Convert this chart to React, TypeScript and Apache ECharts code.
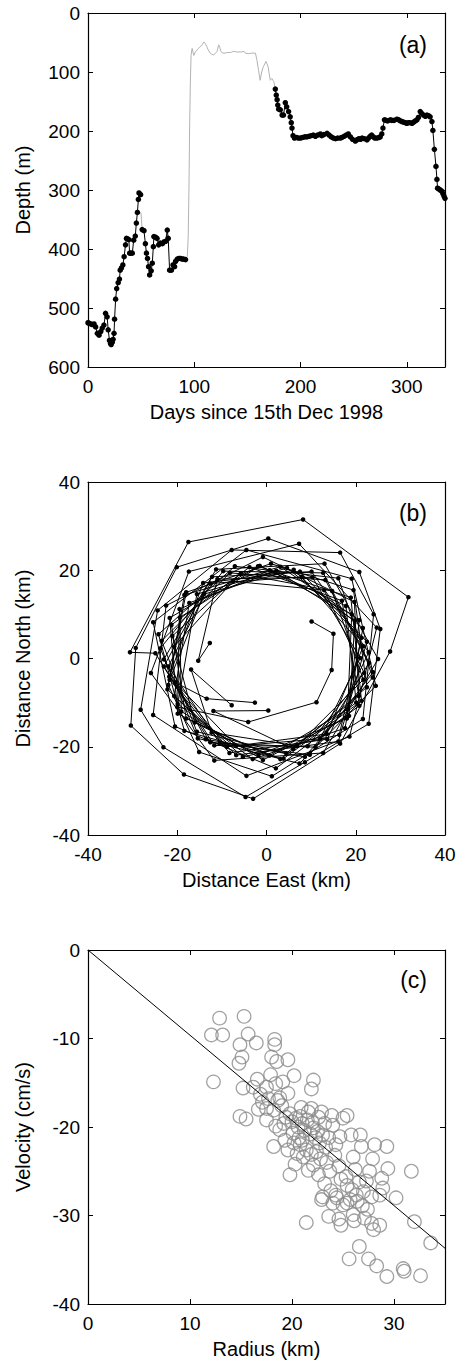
import React, { useEffect, useRef } from "react";
import * as echarts from "echarts";

const FONT = "'Liberation Sans', Arial, Helvetica, sans-serif";

// ---------- Panel (a): depth vs days ----------
const depthBlack1: number[][] = [
  [0, 525], [1.2, 526], [2.5, 527], [4, 528], [5.7, 527], [7.2, 532], [8.8, 543], [10.4, 546],
  [12, 540], [13.4, 534], [15, 529], [16.5, 509], [18, 515], [19, 537], [20.2, 555], [21.2, 560],
  [21.8, 562], [22.8, 558], [23.6, 553], [24.5, 543], [25, 519], [26, 485], [27, 467], [28.4, 457],
  [29.6, 451], [30.3, 436], [31.5, 432], [32.8, 427], [34, 413], [35.3, 393], [36.2, 382], [37.2, 383],
  [38.4, 384], [39.2, 407], [40, 407], [41.7, 407], [43, 385], [44.5, 378], [45.5, 356], [46.5, 338],
  [47.4, 316], [48, 305], [49.5, 308],
];
const depthBlack2: number[][] = [
  [51, 367], [52.7, 369], [54, 391], [55, 407], [56, 416], [57, 430], [58, 444], [59.5, 437],
  [60.5, 424], [61.5, 396], [62, 379], [63.5, 380], [65, 382], [66.5, 393], [68, 390], [70, 391],
  [71.5, 388], [73, 387], [74.6, 368], [75.5, 382], [76.8, 436], [78.5, 436], [80, 427], [81.5, 430],
  [82.4, 421], [84, 417], [85.6, 416], [87, 416], [88.7, 417], [90, 417], [91.8, 418],
];
const depthBlack3: number[][] = [
  [176.3, 129], [177.2, 139], [178, 147], [178.6, 156], [179.5, 163], [181, 164], [182.7, 173], [184, 173],
  [185.7, 152], [187, 159], [188.8, 167], [190.3, 176], [191.3, 186], [192, 195], [193, 208], [194.3, 212],
  [196, 211], [198, 212], [200, 212], [202, 211], [204, 210], [206, 210], [208, 209], [210, 208],
  [212, 207], [214, 209], [216, 207], [218.7, 205], [220, 208], [222, 206], [225, 204], [227, 207],
  [229, 210], [231, 212], [233, 213], [235, 212], [237.5, 212], [239, 211], [241, 209], [243, 207],
  [245, 205], [247, 210], [249, 214], [251.6, 217], [253, 215], [255, 213], [256.5, 214], [258, 212],
  [260, 213], [262.6, 215], [264, 212], [265.5, 209], [267, 207], [268.5, 210], [270, 212], [272, 212],
  [274, 211], [275, 210], [276.5, 205], [277.6, 195], [279, 181], [280.5, 182], [282, 183], [284.5, 181],
  [286, 182], [288, 182], [290.8, 180], [292.5, 181], [294, 183], [295.5, 184], [297, 185], [298.5, 186],
  [300, 187], [301.5, 186], [303, 186], [305, 187], [306.5, 185], [308, 183], [309.6, 181], [311, 177],
  [312.7, 167], [314, 170], [315.8, 173], [317.5, 175], [319, 173], [320.5, 174], [322, 176], [323.7, 184],
  [324.6, 199], [326, 231], [327.5, 260], [328.4, 282], [329, 297], [330, 298], [331.5, 300], [333, 302],
  [334, 306], [335, 310], [336, 314],
];
const depthGray1: number[][] = [[49.8, 338], [50.3, 350], [51, 367]];
const depthGray2: number[][] = [
  [91.8, 418], [93.5, 412], [94.3, 380], [95, 300], [95.6, 200], [96.3, 120], [97, 72], [98, 60],
  [99.5, 72], [101, 66], [102.5, 63], [104, 60], [105.5, 57], [107, 55], [109, 49], [110.5, 52],
  [111.8, 57], [113, 62], [115, 68], [116.5, 70], [118, 71], [119.5, 69], [121.5, 65], [123, 54],
  [124, 58], [125, 65], [127, 68], [129, 68], [131, 67], [134, 67], [137, 65], [140, 66],
  [142, 66], [144.5, 66], [146.8, 65], [148, 68], [151, 69], [154, 68], [157.6, 68], [159, 80],
  [160.5, 97], [162, 114], [163.5, 100], [165, 91], [167.5, 82], [169.5, 91], [170.5, 103], [171.6, 114],
  [173, 111], [174.8, 116], [176.3, 129],
];

// ---------- Panel (b): track, distance east / north (km) ----------
const trackA: number[][] = [
  [-12.7, 3.5], [-15.3, -0.5], [-11.0, 18.0], [10.3, 18.4], [21.0, 0.1], [12.0, -18.2], [-8.9, -20.0],
  [-21.8, -4.1], [-14.2, 17.1], [7.5, 19.7], [22.5, 3.8], [16.1, -18.8], [-6.8, -21.9], [-22.2, -7.0],
  [-18.4, 14.4], [3.1, 20.8], [20.8, 8.7], [18.0, -13.6], [-1.8, -21.9], [-19.9, -12.5], [-21.7, 9.2],
  [-1.9, 20.9], [18.9, 13.8], [21.3, -9.6], [3.8, -22.7], [-18.4, -16.4], [-24.2, 5.5], [-7.1, 20.9],
  [16.1, 18.2], [23.8, -4.3], [8.6, -22.3], [-13.6, -18.3], [-23.0, -0.2], [-11.3, 20.2], [13.0, 21.5],
  [25.0, -0.1], [12.7, -21.4], [-11.7, -23.1], [-25.9, -3.3], [-17.4, 19.7], [7.3, 26.0], [24.7, 7.0],
  [18.6, -17.7], [-4.5, -26.6], [-25.4, -12.8], [-22.5, 12.0], [-0.8, 23.0], [19.7, 12.8], [20.8, -10.7],
  [2.1, -24.9], [-20.5, -15.4], [-25.4, 8.2], [-4.5, 24.6], [19.1, 18.1], [24.5, -6.2], [7.4, -23.8],
  [-15.4, -18.1], [-23.8, 2.3], [-9.7, 19.8], [12.7, 19.4], [23.0, -1.0], [11.0, -20.1], [-10.5, -19.2],
  [-22.0, -1.8], [-12.6, 17.0], [7.9, 18.5], [21.7, 2.8], [13.5, -17.1], [-6.8, -19.8], [-20.5, -5.4],
  [-13.4, -9.1], [-2.6, -10.0],
];
const trackB: number[][] = [
  [10.1, 8.4], [15.0, 5.6], [14.6, -2.6], [11.2, -9.9], [-4.1, -14.4], [-20.0, -11.0], [-15.6, 14.6],
  [4.6, 20.5], [21.6, 6.9], [17.6, -15.8], [-3.1, -22.8], [-19.9, -10.3], [-19.5, 11.2], [0.7, 20.0],
  [19.1, 10.0], [18.2, -11.5], [0.7, -22.0], [-18.0, -13.6], [-21.3, 7.6], [-3.8, 20.7], [16.9, 13.1],
  [20.7, -8.5], [4.4, -21.5], [-15.6, -16.6], [-23.5, 4.0], [-8.2, 19.4], [13.2, 17.8], [23.9, -3.1],
  [9.7, -21.8], [-12.6, -19.0], [-24.9, 1.2], [-30.6, 1.4], [-17.5, 26.4], [8.2, 31.5], [31.8, 13.9],
  [27.7, 1.6], [16.5, -19.3], [-3.0, -31.8], [-18.5, -26.3], [-30.4, -15.2], [-29.3, 2.4], [-20.1, 20.7],
  [0.4, 27.2], [20.8, 19.6], [25.5, 6.7], [22.9, -14.8], [8.6, -23.5], [-4.7, -31.4], [-23.1, -20.1],
  [-28.2, -11.6], [-24.4, 10.9], [-7.8, 24.6], [16.5, 24.0], [24.0, 10.0], [21.6, -13.7], [1.2, -26.7],
  [-15.1, -21.2], [-22.0, -6.0], [-18.0, 15.0], [1.0, 21.5], [19.5, 15.5], [22.5, -6.5], [6.0, -20.5],
  [-11.9, -11.9], [0.4, -11.8],
];
const trackC: number[][] = [
  [-20.7, 2.7], [-7.5, 17.5], [12.9, 15.5], [21.9, -3.3], [9.2, -19.9], [-11.7, -19.7], [-23.0, -1.8],
  [-12.2, 18.5], [10.1, 19.7], [22.9, 1.4], [13.6, -18.3], [-8.3, -21.4], [-21.7, -4.8], [-14.0, 14.6],
  [6.1, 20.1], [21.3, 4.7], [16.3, -17.3], [-5.3, -22.3], [-20.7, -8.5], [-17.3, 12.6], [2.2, 19.9],
  [19.8, 8.6], [18.5, -13.0], [-0.8, -23.0], [-19.1, -12.0], [-19.4, 9.3], [-1.5, 21.0], [17.8, 11.9],
  [20.1, -10.0], [3.1, -22.8], [-16.1, -14.5], [-21.1, 5.1], [-5.8, 19.2], [14.7, 15.3], [21.7, -4.8],
  [6.8, -19.8], [-12.3, -16.8], [-16.9, -2.5], [-7.8, -10.6],
];

// ---------- Panel (c): velocity vs radius ----------
const radiusVelocity: number[][] = [
  [12.9, -7.7], [15.3, -7.5], [12.1, -9.6], [13.2, -9.6], [15.7, -9.5], [14.9, -10.7], [16.5, -10.5],
  [18.3, -10.1], [18.3, -10.7], [15.1, -12.1], [14.8, -12.8], [18.0, -12.1], [18.5, -12.6], [19.6, -12.4],
  [12.3, -14.9], [20.2, -14.2], [22.1, -14.7], [21.9, -15.7], [15.2, -15.6], [16.2, -15.5], [17.5, -15.5],
  [18.4, -15.1], [17.7, -16.8], [18.8, -16.7], [19.6, -16.2], [17.5, -17.9], [18.2, -18.1], [14.9, -18.8],
  [15.5, -19.1], [17.5, -19.2], [19.8, -18.5], [20.8, -18.8], [21.6, -18.3], [22.9, -18.3], [23.9, -18.7],
  [25.0, -19.0], [25.4, -18.7], [24.0, -19.8], [22.1, -20.1], [20.1, -20.7], [18.2, -22.2], [19.3, -21.5],
  [19.8, -25.4], [24.7, -21.1], [25.8, -20.9], [26.7, -20.9], [26.8, -22.2], [28.1, -22.0], [29.3, -22.2],
  [26.0, -23.4], [29.4, -24.7], [31.7, -25.0], [27.6, -25.0], [28.8, -25.8], [23.2, -26.4], [23.0, -27.9],
  [24.3, -27.7], [21.4, -30.8], [22.9, -28.2], [23.6, -30.1], [24.0, -28.6], [24.8, -31.1], [25.4, -28.6],
  [26.0, -29.9], [26.6, -33.5], [25.6, -34.9], [27.5, -34.9], [28.3, -35.7], [29.3, -36.9], [30.9, -36.0],
  [31.0, -36.3], [32.6, -36.8], [33.6, -33.1], [32.0, -30.7], [27.1, -30.3], [27.8, -30.9], [28.0, -31.6],
  [28.6, -31.1], [27.8, -27.9], [28.6, -27.7], [26.3, -27.7], [25.0, -28.8], [24.4, -28.0],
  [18.6, -17.0], [19.0, -17.6], [19.4, -18.9], [20.0, -19.4], [20.4, -19.0], [20.6, -20.0], [21.0, -19.6],
  [21.2, -20.4], [21.5, -19.2], [21.8, -20.8], [22.0, -19.5], [22.3, -21.2], [22.5, -20.5], [22.7, -21.8],
  [23.0, -20.9], [23.3, -22.3], [21.0, -21.5], [20.8, -22.0], [21.4, -22.6], [21.9, -23.1], [22.4, -22.8],
  [22.8, -23.6], [23.4, -24.0], [21.1, -23.4], [20.5, -23.0], [20.2, -21.8], [19.6, -22.6], [22.1, -24.3],
  [23.7, -25.0], [21.6, -24.9], [22.6, -25.4], [24.2, -23.2], [24.6, -24.4], [19.2, -19.6], [18.8, -20.3],
  [23.6, -21.2], [24.3, -22.0], [20.9, -17.8], [21.9, -17.9], [23.2, -19.6], [22.6, -18.9], [20.3, -24.2],
  [25.3, -25.6], [26.2, -24.8], [26.6, -26.2], [25.9, -27.1], [27.0, -27.3], [26.4, -28.4], [25.4, -26.6],
  [24.8, -25.9], [27.3, -26.1], [26.9, -28.9], [25.7, -28.2], [26.1, -30.6], [24.6, -30.4], [23.8, -27.2],
  [17.1, -17.2], [16.7, -18.0], [16.9, -16.3], [17.9, -14.1], [16.6, -14.6], [19.1, -14.9], [20.7, -21.2],
  [18.4, -19.9], [27.9, -23.6], [28.9, -26.9], [27.4, -29.3], [30.2, -28.0],
];
const fitLine: number[][] = [[0, 0], [35, -33.7]];

const panelLabels = ["(a)", "(b)", "(c)"];
const axisNames = {
  aX: "Days since 15th Dec 1998",
  aY: "Depth (m)",
  bX: "Distance East (km)",
  bY: "Distance North (km)",
  cX: "Radius (km)",
  cY: "Velocity (cm/s)",
};

const GRIDS = [
  { left: 88, top: 13, width: 357, height: 354 },
  { left: 88, top: 482, width: 357, height: 353 },
  { left: 88, top: 950, width: 357, height: 354 },
];

function fmt(interval: number) {
  return (v: number) => (Math.abs(Math.round(v) % interval) === 0 ? String(v) : "");
}

function mainAxis(
  dim: "x" | "y",
  grid: number,
  min: number,
  max: number,
  interval: number,
  name: string,
  inverse = false
) {
  return {
    type: "value",
    gridIndex: grid,
    position: dim === "x" ? "bottom" : "left",
    min,
    max,
    interval,
    inverse,
    name,
    nameLocation: "middle",
    nameGap: dim === "x" ? 35 : 55,
    nameRotate: dim === "y" ? 90 : 0,
    nameTextStyle: { fontFamily: FONT, fontSize: 20, color: "#000" },
    axisLine: { show: true, onZero: false, lineStyle: { color: "#000", width: 1.2 } },
    axisTick: { show: true, inside: true, length: 5, lineStyle: { color: "#000", width: 1 } },
    axisLabel: {
      show: true,
      margin: dim === "x" ? 10 : 8,
      fontFamily: FONT,
      fontSize: 19,
      color: "#000",
      formatter: fmt(interval),
    },
    splitLine: { show: false },
  };
}

function mirrorAxis(dim: "x" | "y", grid: number, min: number, max: number, interval: number, inverse = false) {
  return {
    type: "value",
    gridIndex: grid,
    position: dim === "x" ? "top" : "right",
    min,
    max,
    interval,
    inverse,
    axisLine: { show: true, onZero: false, lineStyle: { color: "#000", width: 1.2 } },
    axisTick: { show: true, inside: true, length: 5, lineStyle: { color: "#000", width: 1 } },
    axisLabel: { show: false },
    splitLine: { show: false },
  };
}

function blackTrack(data: number[][], xi: number, yi: number, size: number) {
  return {
    type: "line",
    xAxisIndex: xi,
    yAxisIndex: yi,
    data,
    symbol: "circle",
    symbolSize: size,
    showSymbol: true,
    itemStyle: { color: "#000" },
    lineStyle: { color: "#000", width: 1 },
    silent: true,
    z: 3,
  };
}

function grayTrack(data: number[][]) {
  return {
    type: "line",
    xAxisIndex: 0,
    yAxisIndex: 0,
    data,
    symbol: "none",
    showSymbol: false,
    lineStyle: { color: "#b2b2b2", width: 1 },
    silent: true,
    z: 2,
  };
}

const labelY = [45, 513, 980];

const option = {
  animation: false,
  backgroundColor: "#fff",
  grid: GRIDS.map((g) => ({ ...g, show: false, containLabel: false })),
  xAxis: [
    mainAxis("x", 0, 0, 336, 100, axisNames.aX),
    mirrorAxis("x", 0, 0, 336, 100),
    mainAxis("x", 1, -40, 40, 20, axisNames.bX),
    mirrorAxis("x", 1, -40, 40, 20),
    mainAxis("x", 2, 0, 35, 10, axisNames.cX),
    mirrorAxis("x", 2, 0, 35, 10),
  ],
  yAxis: [
    mainAxis("y", 0, 0, 600, 100, axisNames.aY, true),
    mirrorAxis("y", 0, 0, 600, 100, true),
    mainAxis("y", 1, -40, 40, 20, axisNames.bY),
    mirrorAxis("y", 1, -40, 40, 20),
    mainAxis("y", 2, -40, 0, 10, axisNames.cY),
    mirrorAxis("y", 2, -40, 0, 10),
  ],
  series: [
    grayTrack(depthGray1),
    grayTrack(depthGray2),
    blackTrack(depthBlack1, 0, 0, 5.5),
    blackTrack(depthBlack2, 0, 0, 5.5),
    blackTrack(depthBlack3, 0, 0, 5.5),
    blackTrack(trackA, 2, 2, 4.5),
    blackTrack(trackB, 2, 2, 4.5),
    blackTrack(trackC, 2, 2, 4.5),
    {
      type: "scatter",
      xAxisIndex: 4,
      yAxisIndex: 4,
      data: radiusVelocity,
      symbol: "circle",
      symbolSize: 13.5,
      itemStyle: { color: "rgba(0,0,0,0)", borderColor: "#8a8a8a", borderWidth: 1.3 },
      silent: true,
      z: 2,
    },
    {
      type: "line",
      xAxisIndex: 4,
      yAxisIndex: 4,
      data: fitLine,
      symbol: "none",
      showSymbol: false,
      lineStyle: { color: "#000", width: 1 },
      silent: true,
      z: 3,
    },
  ],
  graphic: panelLabels.map((t, i) => ({
    type: "text",
    x: 427,
    y: labelY[i],
    style: {
      text: t,
      font: `23px ${FONT}`,
      fill: "#000",
      textAlign: "right",
      textVerticalAlign: "middle",
    },
  })),
};

export default function App() {
  const ref = useRef<HTMLDivElement>(null);
  useEffect(() => {
    document.body.style.margin = "0";
    const chart = echarts.init(ref.current as HTMLDivElement, null, { renderer: "svg" });
    chart.setOption(option as any);
    return () => chart.dispose();
  }, []);
  return <div ref={ref} style={{ width: 460, height: 1370 }} />;
}
